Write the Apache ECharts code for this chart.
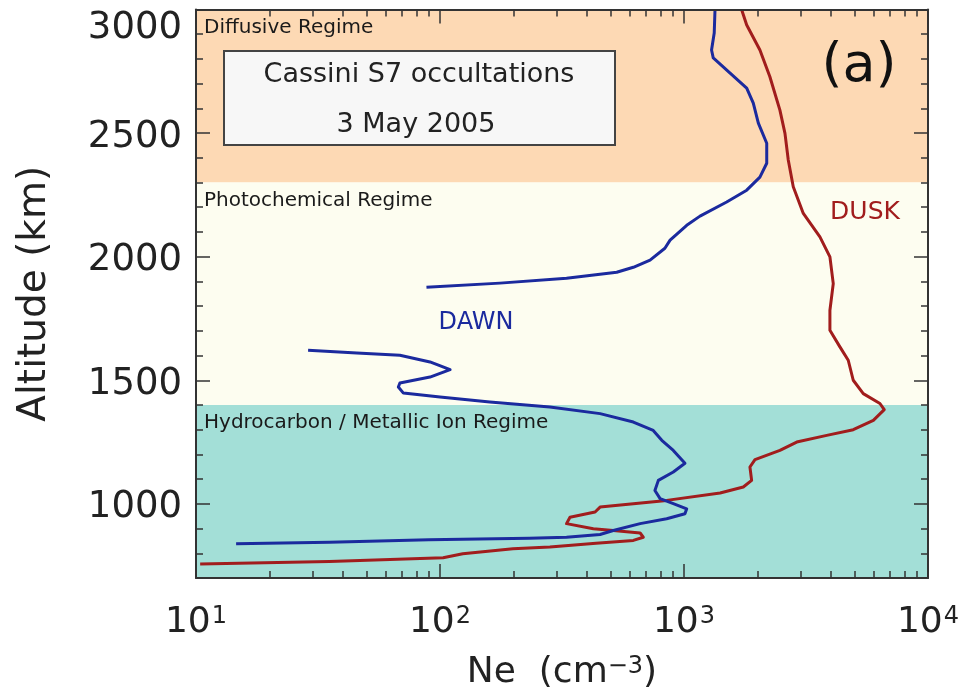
<!DOCTYPE html>
<html>
<head>
<meta charset="utf-8">
<script src="https://cdn.jsdelivr.net/npm/echarts@6/dist/echarts.min.js"></script>
<style>
  html, body { margin: 0; padding: 0; background: #ffffff; }
  #chart { width: 965px; height: 697px; }
</style>
</head>
<body>
<div id="chart"></div>
<script>
// ---------------- Data ----------------
const dawnUpperNe  = [1340,1330,1297,1318,1545,1807,1923,2017,2183,2183,2047,1807,1496,1163,1026,877,835,726,620,530,330,176,88];
const dawnUpperAlt = [3000,2905,2836,2804,2743,2682,2621,2540,2459,2378,2322,2269,2221,2164,2127,2067,2034,1986,1957,1937,1913,1893,1876];

const dawnLowerNe  = [28.8,45.6,68.5,91,110,91,68.5,67.5,70.8,100,160,282,453,620,748,811,904,1009,904,785,760,798,904,1026,1009,849,661,513,453,330,232,90,35.2,14.6];
const dawnLowerAlt = [1621,1610,1601,1574,1543,1513,1489,1473,1448,1432,1412,1392,1365,1331,1297,1257,1216,1164,1129,1095,1054,1021,1001,980,960,940,920,892,876,865,861,855,845,839];

const duskNe  = [1722,1807,2047,2249,2472,2593,2675,2804,3083,3606,3963,4090,3963,3963,4355,4711,4939,5429,6353,6618,5970,4939,3846,2897,2472,1954,1863,1893,1750,1406,849,453,432,341,330,425,513,661,681,620,436,282,199,124,103,35.2,10.4];
const duskAlt = [3000,2937,2836,2728,2593,2499,2391,2283,2175,2080,1999,1891,1783,1702,1635,1581,1500,1446,1406,1381,1338,1300,1277,1250,1216,1179,1149,1095,1068,1044,1014,987,967,946,920,899,892,882,865,852,841,825,818,798,782,767,757];

const regimeNames   = ['Diffusive Regime', 'Photochemical Regime', 'Hydrocarbon / Metallic Ion Regime'];
const regimeTops    = [3000, 2300, 1400];
const regimeBottoms = [2300, 1400, 700];
const regimeColors  = ['#FDD9B4', '#FDFDF0', '#A3DFD7'];

const xMajorTicks = [10, 100, 1000, 10000];
const xMinorTicks = [20,30,40,50,60,70,80,90,200,300,400,500,600,700,800,900,2000,3000,4000,5000,6000,7000,8000,9000];
const yMajorTicks = [1000, 1500, 2000, 2500, 3000];
const yMinorTicks = [700,800,900,1100,1200,1300,1400,1600,1700,1800,1900,2100,2200,2300,2400,2600,2700,2800,2900];

const boxLines = ['Cassini S7 occultations', '3 May 2005'];

// ---------------- Helpers ----------------
const FONT = 'DejaVu Sans';
const AX = '#333333';
const pair = (xs, ys) => xs.map((v, i) => [v, ys[i]]);
const supDigits = { '10': '1', '100': '2', '1000': '3', '10000': '4' };

function xAxisDef(pos, ticks, len, showLine, showLabel) {
  return {
    type: 'log', logBase: 10, min: 10, max: 10000, position: pos, z: 10,
    axisLine: { show: showLine, lineStyle: { color: AX, width: 2 } },
    axisTick: { show: true, inside: true, length: len, customValues: ticks, lineStyle: { color: AX, width: 1.5 } },
    axisLabel: showLabel ? {
      show: true, customValues: xMajorTicks, margin: 27,
      formatter: v => '{b|10}{s|' + (supDigits[String(Math.round(v))] || '') + '}',
      rich: {
        b: { fontFamily: FONT, fontSize: 36, color: '#222', lineHeight: 36, verticalAlign: 'bottom' },
        s: { fontFamily: FONT, fontSize: 24, color: '#222', lineHeight: 36, verticalAlign: 'top', padding: [0, 0, 0, 1] }
      }
    } : { show: false },
    splitLine: { show: false }, minorTick: { show: false }
  };
}
function yAxisDef(pos, ticks, len, showLine, showLabel) {
  return {
    type: 'value', min: 700, max: 3000, position: pos, z: 10,
    axisLine: { show: showLine, lineStyle: { color: AX, width: 2 } },
    axisTick: { show: true, inside: true, length: len, customValues: ticks, lineStyle: { color: AX, width: 1.5 } },
    axisLabel: showLabel ? {
      show: true, customValues: yMajorTicks, margin: 14,
      formatter: v => (v === 3000 ? '{t|' + v + '}' : '{n|' + v + '}'),
      rich: {
        n: { fontFamily: FONT, fontSize: 37, color: '#222', padding: [8, 0, 0, 0] },
        t: { fontFamily: FONT, fontSize: 37, color: '#222', padding: [38, 0, 0, 0] }
      }
    } : { show: false },
    splitLine: { show: false }
  };
}

const yMain = yAxisDef('left', yMajorTicks, 14, true, true);
yMain.name = 'Altitude (km)';
yMain.nameLocation = 'middle';
yMain.nameRotate = 90;
yMain.nameGap = 142;
yMain.nameTextStyle = { fontFamily: FONT, fontSize: 39, color: '#222' };

const xMain = xAxisDef('bottom', xMajorTicks, 14, true, true);
xMain.name = '{a|Ne  (cm}{s|\u22123}{a|)}';
xMain.nameLocation = 'middle';
xMain.nameGap = 77;
xMain.nameTextStyle = {
  rich: {
    a: { fontFamily: FONT, fontSize: 36, color: '#222', lineHeight: 36, verticalAlign: 'bottom' },
    s: { fontFamily: FONT, fontSize: 24, color: '#222', lineHeight: 36, verticalAlign: 'top' }
  }
};

const chart = echarts.init(document.getElementById('chart'), null, { renderer: 'canvas' });
chart.setOption({
  animation: false,
  backgroundColor: '#ffffff',
  grid: { left: 196, right: 37, top: 9.5, bottom: 119, containLabel: false, outerBoundsMode: 'none' },
  xAxis: [
    xMain,
    xAxisDef('bottom', xMinorTicks, 7, false, false),
    xAxisDef('top', xMajorTicks, 14, true, false),
    xAxisDef('top', xMinorTicks, 7, false, false)
  ],
  yAxis: [
    yMain,
    yAxisDef('left', yMinorTicks, 7, false, false),
    yAxisDef('right', yMajorTicks, 14, true, false),
    yAxisDef('right', yMinorTicks, 7, false, false)
  ],
  series: [
    {
      name: 'regimes', type: 'line', data: [], silent: true,
      markArea: {
        silent: true,
        data: regimeNames.map((n, i) => [
          { name: n, yAxis: regimeTops[i], itemStyle: { color: regimeColors[i], opacity: 1 } },
          { yAxis: regimeBottoms[i] }
        ]),
        label: {
          show: true, position: 'insideTopLeft', distance: 8,
          fontFamily: FONT, fontSize: 20, color: '#1a1a1a'
        }
      }
    },
    {
      name: 'DUSK', type: 'line', showSymbol: false, symbol: 'none',
      data: pair(duskNe, duskAlt),
      lineStyle: { color: '#A11D1D', width: 3, join: 'round' }, z: 3
    },
    {
      name: 'DAWN', type: 'line', showSymbol: false, symbol: 'none',
      data: pair(dawnUpperNe, dawnUpperAlt),
      lineStyle: { color: '#1B2A9E', width: 3, join: 'round' }, z: 4
    },
    {
      name: 'DAWN', type: 'line', showSymbol: false, symbol: 'none',
      data: pair(dawnLowerNe, dawnLowerAlt),
      lineStyle: { color: '#1B2A9E', width: 3, join: 'round' }, z: 4
    }
  ],
  graphic: [
    {
      type: 'rect', z: 20,
      shape: { x: 224, y: 51, width: 391, height: 94 },
      style: { fill: '#F7F7F7', stroke: '#444', lineWidth: 2 }
    },
    {
      type: 'text', z: 21, x: 419, y: 75,
      style: { text: boxLines[0], fontFamily: FONT, fontSize: 27, fill: '#222', align: 'center', verticalAlign: 'middle' }
    },
    {
      type: 'text', z: 21, x: 416, y: 125,
      style: { text: boxLines[1], fontFamily: FONT, fontSize: 27, fill: '#222', align: 'center', verticalAlign: 'middle' }
    },
    {
      type: 'text', z: 21, x: 859, y: 67,
      style: { text: '(a)', fontFamily: FONT, fontSize: 54, fill: '#111', align: 'center', verticalAlign: 'middle' }
    },
    {
      type: 'text', z: 21, x: 865, y: 212,
      style: { text: 'DUSK', fontFamily: FONT, fontSize: 25, fill: '#A11D1D', align: 'center', verticalAlign: 'middle' }
    },
    {
      type: 'text', z: 21, x: 476, y: 323,
      style: { text: 'DAWN', fontFamily: FONT, fontSize: 24, fill: '#1B2A9E', align: 'center', verticalAlign: 'middle' }
    }
  ]
});
</script>
</body>
</html>
